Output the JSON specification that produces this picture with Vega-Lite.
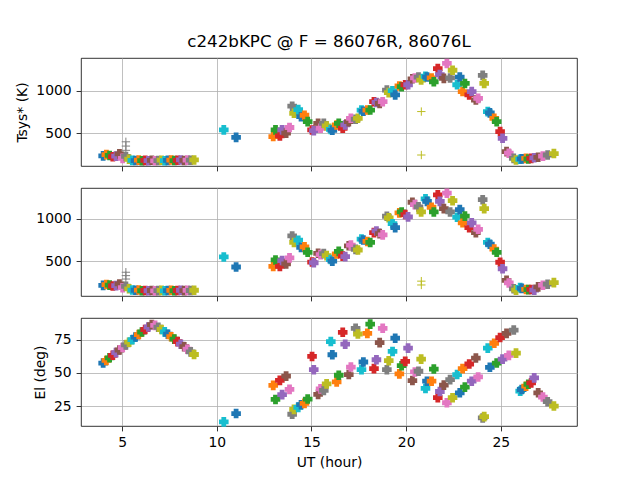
{
  "$schema": "https://vega.github.io/schema/vega-lite/v6.json",
  "autosize": {"type": "pad"},
  "padding": {"left": 15, "top": 33, "right": 5, "bottom": 5},
  "background": "white",
  "data": {
    "values": [
      {"scan": 0, "t": 4.00, "el": 57.5, "tr": 235, "tl": 215},
      {"scan": 1, "t": 4.17, "el": 59.5, "tr": 250, "tl": 225},
      {"scan": 2, "t": 4.34, "el": 61.5, "tr": 240, "tl": 218},
      {"scan": 3, "t": 4.51, "el": 63.4, "tr": 225, "tl": 208},
      {"scan": 4, "t": 4.68, "el": 65.4, "tr": 232, "tl": 212},
      {"scan": 5, "t": 4.86, "el": 67.4, "tr": 258, "tl": 232},
      {"scan": 6, "t": 5.03, "el": 69.3, "tr": 205, "tl": 188},
      {"scan": 7, "t": 5.20, "el": 71.3, "tr": 228, "tl": 205},
      {"scan": 7, "t": 5.20, "tr": 300, "tl": 290, "flag": true},
      {"scan": 7, "t": 5.20, "tr": 350, "tl": 330, "flag": true},
      {"scan": 7, "t": 5.20, "tr": 400, "tl": 370, "flag": true},
      {"scan": 8, "t": 5.37, "el": 73.3, "tr": 195, "tl": 175},
      {"scan": 9, "t": 5.54, "el": 75.2, "tr": 182, "tl": 160},
      {"scan": 10, "t": 5.71, "el": 77.2, "tr": 180, "tl": 158},
      {"scan": 11, "t": 5.88, "el": 79.1, "tr": 185, "tl": 160},
      {"scan": 12, "t": 6.05, "el": 81.0, "tr": 178, "tl": 152},
      {"scan": 13, "t": 6.22, "el": 82.9, "tr": 182, "tl": 155},
      {"scan": 14, "t": 6.39, "el": 84.8, "tr": 178, "tl": 152},
      {"scan": 15, "t": 6.57, "el": 86.6, "tr": 183, "tl": 155},
      {"scan": 16, "t": 6.74, "el": 86.0, "tr": 177, "tl": 150},
      {"scan": 17, "t": 6.91, "el": 84.6, "tr": 180, "tl": 153},
      {"scan": 18, "t": 7.08, "el": 82.9, "tr": 184, "tl": 156},
      {"scan": 19, "t": 7.25, "el": 81.1, "tr": 178, "tl": 151},
      {"scan": 20, "t": 7.42, "el": 79.3, "tr": 182, "tl": 154},
      {"scan": 21, "t": 7.59, "el": 77.4, "tr": 186, "tl": 157},
      {"scan": 22, "t": 7.76, "el": 75.6, "tr": 180, "tl": 152},
      {"scan": 23, "t": 7.93, "el": 73.7, "tr": 183, "tl": 155},
      {"scan": 24, "t": 8.10, "el": 71.8, "tr": 187, "tl": 158},
      {"scan": 25, "t": 8.28, "el": 69.9, "tr": 181, "tl": 153},
      {"scan": 26, "t": 8.45, "el": 68.0, "tr": 185, "tl": 156},
      {"scan": 27, "t": 8.62, "el": 66.0, "tr": 184, "tl": 155},
      {"scan": 28, "t": 8.80, "el": 64.0, "tr": 187, "tl": 158},
      {"scan": 29, "t": 10.37, "el": 13.0, "tr": 540, "tl": 550},
      {"scan": 30, "t": 11.02, "el": 19.3, "tr": 452, "tl": 432},
      {"scan": 31, "t": 12.98, "el": 40.6, "tr": 462, "tl": 438},
      {"scan": 32, "t": 13.10, "el": 30.0, "tr": 540, "tl": 515},
      {"scan": 33, "t": 13.33, "el": 44.4, "tr": 470, "tl": 438},
      {"scan": 34, "t": 13.45, "el": 33.6, "tr": 540, "tl": 508},
      {"scan": 35, "t": 13.66, "el": 47.6, "tr": 502, "tl": 469},
      {"scan": 36, "t": 13.84, "el": 37.6, "tr": 568, "tl": 539},
      {"scan": 37, "t": 13.98, "el": 18.8, "tr": 818, "tl": 798},
      {"scan": 38, "t": 14.08, "el": 22.5, "tr": 735, "tl": 721},
      {"scan": 39, "t": 14.30, "el": 24.0, "tr": 778, "tl": 748},
      {"scan": 40, "t": 14.45, "el": 26.0, "tr": 695, "tl": 663},
      {"scan": 41, "t": 14.63, "el": 27.0, "tr": 712, "tl": 670},
      {"scan": 42, "t": 14.80, "el": 30.3, "tr": 637, "tl": 605},
      {"scan": 43, "t": 15.03, "el": 62.5, "tr": 539, "tl": 490},
      {"scan": 44, "t": 15.12, "el": 52.5, "tr": 531, "tl": 482},
      {"scan": 45, "t": 15.35, "el": 33.8, "tr": 617, "tl": 593},
      {"scan": 46, "t": 15.48, "el": 38.0, "tr": 559, "tl": 578},
      {"scan": 47, "t": 15.65, "el": 36.8, "tr": 617, "tl": 590},
      {"scan": 48, "t": 15.80, "el": 41.8, "tr": 586, "tl": 566},
      {"scan": 49, "t": 16.02, "el": 73.8, "tr": 545, "tl": 520},
      {"scan": 50, "t": 16.10, "el": 63.8, "tr": 535, "tl": 500},
      {"scan": 51, "t": 16.33, "el": 43.3, "tr": 598, "tl": 585},
      {"scan": 52, "t": 16.44, "el": 48.3, "tr": 617, "tl": 616},
      {"scan": 53, "t": 16.65, "el": 80.8, "tr": 559, "tl": 560},
      {"scan": 54, "t": 16.78, "el": 71.8, "tr": 598, "tl": 554},
      {"scan": 55, "t": 16.97, "el": 48.8, "tr": 637, "tl": 682},
      {"scan": 56, "t": 17.08, "el": 54.5, "tr": 676, "tl": 690},
      {"scan": 57, "t": 17.33, "el": 83.8, "tr": 665, "tl": 640},
      {"scan": 58, "t": 17.45, "el": 79.5, "tr": 676, "tl": 632},
      {"scan": 59, "t": 17.64, "el": 52.5, "tr": 773, "tl": 760},
      {"scan": 60, "t": 17.74, "el": 58.3, "tr": 758, "tl": 750},
      {"scan": 61, "t": 17.95, "el": 80.0, "tr": 773, "tl": 733},
      {"scan": 62, "t": 18.10, "el": 87.0, "tr": 773, "tl": 721},
      {"scan": 63, "t": 18.30, "el": 53.3, "tr": 871, "tl": 837},
      {"scan": 64, "t": 18.43, "el": 60.0, "tr": 862, "tl": 857},
      {"scan": 65, "t": 18.60, "el": 73.0, "tr": 850, "tl": 825},
      {"scan": 66, "t": 18.76, "el": 83.8, "tr": 871, "tl": 810},
      {"scan": 67, "t": 18.98, "el": 52.5, "tr": 1008, "tl": 1030},
      {"scan": 68, "t": 19.08, "el": 59.3, "tr": 977, "tl": 1012},
      {"scan": 69, "t": 19.28, "el": 66.3, "tr": 1000, "tl": 942},
      {"scan": 70, "t": 19.42, "el": 76.3, "tr": 950, "tl": 895},
      {"scan": 71, "t": 19.64, "el": 49.3, "tr": 1055, "tl": 1070},
      {"scan": 72, "t": 19.76, "el": 55.5, "tr": 1047, "tl": 1081},
      {"scan": 73, "t": 19.95, "el": 58.8, "tr": 1070, "tl": 1050},
      {"scan": 74, "t": 20.10, "el": 68.8, "tr": 1070, "tl": 1023},
      {"scan": 75, "t": 20.33, "el": 44.3, "tr": 1140, "tl": 1195},
      {"scan": 76, "t": 20.46, "el": 50.8, "tr": 1150, "tl": 1167},
      {"scan": 77, "t": 20.65, "el": 51.3, "tr": 1160, "tl": 1140},
      {"scan": 78, "t": 20.79, "el": 60.5, "tr": 1125, "tl": 1081},
      {"scan": 78, "t": 20.80, "tr": 755, "tl": 265, "flag": true},
      {"scan": 78, "t": 20.80, "tr": 245, "tl": 220, "flag": true},
      {"scan": 79, "t": 21.02, "el": 38.3, "tr": 1170, "tl": 1236},
      {"scan": 80, "t": 21.10, "el": 43.8, "tr": 1160, "tl": 1205},
      {"scan": 81, "t": 21.34, "el": 43.8, "tr": 1150, "tl": 1136},
      {"scan": 82, "t": 21.46, "el": 53.0, "tr": 1105, "tl": 1081},
      {"scan": 83, "t": 21.67, "el": 31.3, "tr": 1260, "tl": 1283},
      {"scan": 84, "t": 21.78, "el": 36.0, "tr": 1190, "tl": 1205},
      {"scan": 85, "t": 21.99, "el": 40.8, "tr": 1145, "tl": 1120},
      {"scan": 86, "t": 22.15, "el": 27.5, "tr": 1320, "tl": 1302},
      {"scan": 87, "t": 22.32, "el": 45.0, "tr": 1150, "tl": 1081},
      {"scan": 88, "t": 22.45, "el": 31.3, "tr": 1240, "tl": 1213},
      {"scan": 89, "t": 22.69, "el": 48.8, "tr": 1070, "tl": 1019},
      {"scan": 90, "t": 22.83, "el": 35.0, "tr": 1160, "tl": 1108},
      {"scan": 91, "t": 22.98, "el": 53.3, "tr": 990, "tl": 953},
      {"scan": 92, "t": 23.10, "el": 39.3, "tr": 1085, "tl": 1031},
      {"scan": 93, "t": 23.33, "el": 56.8, "tr": 950, "tl": 895},
      {"scan": 94, "t": 23.46, "el": 43.8, "tr": 990, "tl": 953},
      {"scan": 95, "t": 23.68, "el": 61.3, "tr": 890, "tl": 837},
      {"scan": 96, "t": 23.80, "el": 47.0, "tr": 910, "tl": 876},
      {"scan": 97, "t": 24.04, "el": 16.0, "tr": 1180, "tl": 1225},
      {"scan": 98, "t": 24.12, "el": 17.0, "tr": 1085, "tl": 1120},
      {"scan": 99, "t": 24.31, "el": 68.8, "tr": 754, "tl": 721},
      {"scan": 100, "t": 24.42, "el": 54.3, "tr": 740, "tl": 700},
      {"scan": 101, "t": 24.65, "el": 72.5, "tr": 676, "tl": 643},
      {"scan": 102, "t": 24.78, "el": 57.5, "tr": 637, "tl": 605},
      {"scan": 103, "t": 24.96, "el": 76.8, "tr": 520, "tl": 488},
      {"scan": 104, "t": 25.09, "el": 60.5, "tr": 441, "tl": 411},
      {"scan": 105, "t": 25.30, "el": 80.0, "tr": 285, "tl": 275},
      {"scan": 106, "t": 25.42, "el": 63.3, "tr": 266, "tl": 244},
      {"scan": 107, "t": 25.68, "el": 82.5, "tr": 205, "tl": 175},
      {"scan": 108, "t": 25.80, "el": 65.0, "tr": 187, "tl": 159},
      {"scan": 109, "t": 26.02, "el": 36.3, "tr": 195, "tl": 190},
      {"scan": 110, "t": 26.10, "el": 37.5, "tr": 200, "tl": 180},
      {"scan": 111, "t": 26.33, "el": 40.0, "tr": 205, "tl": 167},
      {"scan": 112, "t": 26.45, "el": 41.5, "tr": 198, "tl": 165},
      {"scan": 113, "t": 26.60, "el": 42.5, "tr": 205, "tl": 167},
      {"scan": 114, "t": 26.76, "el": 46.3, "tr": 212, "tl": 159},
      {"scan": 115, "t": 26.97, "el": 35.0, "tr": 218, "tl": 198},
      {"scan": 116, "t": 27.22, "el": 31.8, "tr": 232, "tl": 217},
      {"scan": 117, "t": 27.47, "el": 28.3, "tr": 245, "tl": 229},
      {"scan": 118, "t": 27.80, "el": 25.0, "tr": 262, "tl": 248}
    ]
  },
  "spacing": 22,
  "bounds": "flush",
  "vconcat": [
    {
      "title": {"text": "c242bKPC @ F = 86076R, 86076L", "anchor": "middle", "frame": "group", "offset": 7},
      "width": 496,
      "height": 108,
      "encoding": {
        "x": {"field": "t", "type": "quantitative", "scale": {"domain": [2.83, 29.02], "nice": false, "zero": false}, "axis": {"values": [5, 10, 15, 20, 25], "labels": false, "title": null}},
        "y": {"field": "tr", "type": "quantitative", "scale": {"domain": [116, 1384], "nice": false, "zero": false}, "axis": {"values": [500, 1000], "format": "d", "title": "Tsys* (K)"}},
        "color": {"field": "scan", "type": "nominal", "scale": {"range": ["#1f77b4", "#ff7f0e", "#2ca02c", "#d62728", "#9467bd", "#8c564b", "#e377c2", "#7f7f7f", "#bcbd22", "#17becf"]}, "legend": null}
      },
      "layer": [
        {"transform": [{"filter": "!datum.flag"}], "mark": {"type": "point", "shape": "M-0.5,-1H0.5V-0.5H1V0.5H0.5V1H-0.5V0.5H-1V-0.5H-0.5Z", "filled": true, "size": 92, "opacity": 1}},
        {"transform": [{"filter": "datum.flag"}], "mark": {"type": "point", "shape": "M-1,0H1M0,-1V1", "filled": false, "size": 70, "strokeWidth": 1, "opacity": 1}}
      ]
    },
    {
      "width": 496,
      "height": 108,
      "encoding": {
        "x": {"field": "t", "type": "quantitative", "scale": {"domain": [2.83, 29.02], "nice": false, "zero": false}, "axis": {"values": [5, 10, 15, 20, 25], "labels": false, "title": null}},
        "y": {"field": "tl", "type": "quantitative", "scale": {"domain": [90, 1363], "nice": false, "zero": false}, "axis": {"values": [500, 1000], "format": "d", "title": null}},
        "color": {"field": "scan", "type": "nominal", "legend": null}
      },
      "layer": [
        {"transform": [{"filter": "!datum.flag"}], "mark": {"type": "point", "shape": "M-0.5,-1H0.5V-0.5H1V0.5H0.5V1H-0.5V0.5H-1V-0.5H-0.5Z", "filled": true, "size": 92, "opacity": 1}},
        {"transform": [{"filter": "datum.flag"}], "mark": {"type": "point", "shape": "M-1,0H1M0,-1V1", "filled": false, "size": 70, "strokeWidth": 1, "opacity": 1}}
      ]
    },
    {
      "width": 496,
      "height": 108,
      "transform": [{"filter": "!datum.flag"}],
      "mark": {"type": "point", "shape": "M-0.5,-1H0.5V-0.5H1V0.5H0.5V1H-0.5V0.5H-1V-0.5H-0.5Z", "filled": true, "size": 92, "opacity": 1},
      "encoding": {
        "x": {"field": "t", "type": "quantitative", "scale": {"domain": [2.83, 29.02], "nice": false, "zero": false}, "axis": {"values": [5, 10, 15, 20, 25], "title": "UT (hour)"}},
        "y": {"field": "el", "type": "quantitative", "scale": {"domain": [9.9, 91.6], "nice": false, "zero": false}, "axis": {"values": [25, 50, 75], "title": "El (deg)"}},
        "color": {"field": "scan", "type": "nominal", "legend": null}
      }
    }
  ],
  "config": {
    "font": "DejaVu Sans",
    "view": {"stroke": "#000000", "strokeWidth": 0.8},
    "title": {"font": "DejaVu Sans", "fontSize": 16.7, "fontWeight": "normal", "color": "#000000"},
    "axis": {
      "domain": false,
      "grid": true,
      "gridColor": "#b0b0b0",
      "gridWidth": 0.8,
      "tickColor": "#000000",
      "tickWidth": 0.8,
      "tickSize": 4.9,
      "labelPadding": 4.9,
      "labelFont": "DejaVu Sans",
      "labelFontSize": 13.9,
      "labelColor": "#000000",
      "labelFlush": false,
      "labelOverlap": false,
      "titleFont": "DejaVu Sans",
      "titleFontSize": 13.9,
      "titleFontWeight": "normal",
      "titleColor": "#000000",
      "titlePadding": 6
    }
  }
}
